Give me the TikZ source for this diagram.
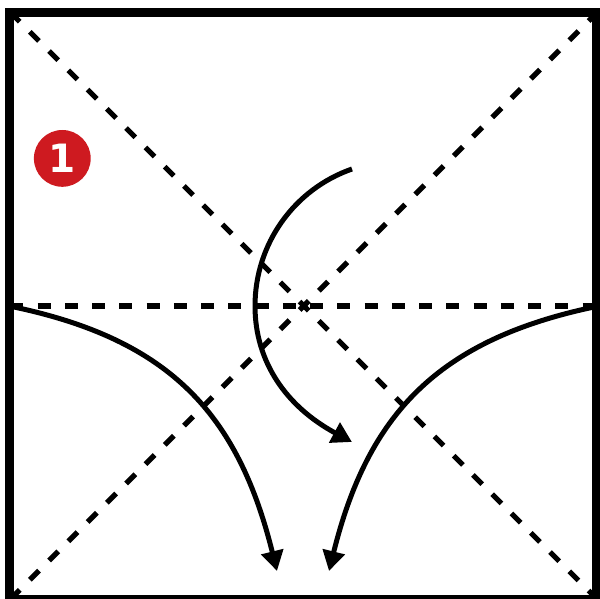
\documentclass[tikz,border=0pt]{standalone}
\usepackage{fontspec}
\setmainfont{DejaVu Sans}
\usetikzlibrary{arrows.meta}
\definecolor{badgered}{HTML}{CE1A20}
\tikzset{
  crease/.style={line width=5.3pt,dash pattern=on 13pt off 14.25pt},
  foldarrow/.style={line width=5pt,-{Triangle[length=20pt,width=22pt]}},
  frameline/.style={line width=9pt},
  badge/.style={circle,fill=badgered,minimum size=56.8pt,inner sep=0pt,text=white,font=\bfseries\fontsize{39}{39}\selectfont}
}
\begin{document}
\begin{tikzpicture}[x=1pt,y=-1pt]
\useasboundingbox (0,0) rectangle (600,599);
\fill[white] (0,0) rectangle (600,599);
\coordinate (tl) at (9.5,12.5);
\coordinate (tr) at (596.5,12.5);
\coordinate (bl) at (9.5,599);
\coordinate (br) at (596.5,599);
\coordinate (dtl) at (10.5,12.5);
\coordinate (dbr) at (598.5,600.5);
\coordinate (dbl) at (10.5,599);
\coordinate (dtr) at (598.5,11);
\coordinate (ml) at (10.3,306);
\coordinate (mr) at (592,306);
\draw[crease] (dtl) -- (dbr);
\draw[crease] (dbl) -- (dtr);
\draw[crease] (ml) -- (mr);
\draw[frameline] (tl) -- (tr) -- (br) -- (bl) -- cycle;
\coordinate (a1s) at (352,169);
\coordinate (a1m) at (255,306);
\coordinate (a1e) at (352,442);
\coordinate (a2s) at (14,307);
\coordinate (a2e) at (277,571);
\coordinate (a3s) at (594,307);
\coordinate (a3e) at (329,571);
\draw[foldarrow] (a1s) .. controls (293.7,189.4) and (255,244.3) .. (a1m)
  .. controls (255,362.4) and (287,407) .. (a1e);
\draw[foldarrow] (a2s) .. controls (170,340) and (238,414) .. (a2e);
\draw[foldarrow] (a3s) .. controls (438,340) and (368,414) .. (a3e);
\node[badge] (num) at (62.3,158.4) {1};
\end{tikzpicture}
\end{document}
